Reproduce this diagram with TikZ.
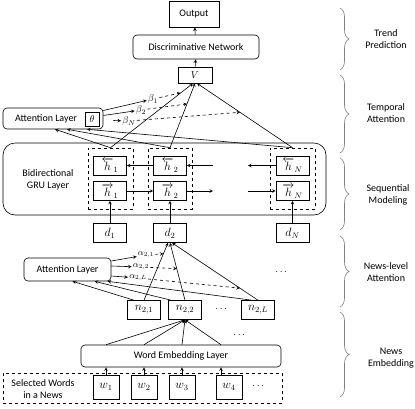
\documentclass[tikz,border=0pt]{standalone}
\usepackage{amsmath,amssymb}
\usepackage{fontspec}
\setmainfont{Carlito}
\usepackage{tikz}
\usetikzlibrary{arrows,positioning,calc,decorations.pathreplacing}
\tikzset{>=stealth}

\begin{document}
\begin{tikzpicture}[x=1pt, y=-1pt, line width=0.6pt,
	every node/.style={font=\normalsize},
	box/.style={draw, minimum width=33, minimum height=19, inner sep=1pt},
	mbox/.style={box, font=\large},
	rbox/.style={draw, rounded corners=4pt, inner sep=2pt},
	grp/.style={draw, dashed, inner sep=0pt},
	lbl/.style={align=center, inner sep=1pt},
	wt/.style={inner sep=1pt, font=\normalsize},
	brc/.style={draw=gray, decorate, decoration={brace, amplitude=9pt}}]
			\useasboundingbox (0,0) rectangle (415,408);
			
			% Trend prediction
			\node[box, minimum width=50, minimum height=26] (out) at (194,14) {Output};
			\node[rbox, minimum width=126, minimum height=24] (disc) at (196,47) {Discriminative Network};
			\node[box, minimum width=34, minimum height=16] (v) at (195,75) {$V$};
			\draw[->] (disc) -- (out);
			\draw[->] (v) -- (disc);
			
			% Temporal attention layer
			\node[rbox, minimum width=100, minimum height=21] (tatt) at (53,118.5) {};
			\node[inner sep=0pt] (tattl) at (46,119) {Attention Layer};
			\node[box, minimum width=14, minimum height=14] (theta) at (92,119) {$\theta$};
			
			% Bidirectional GRU layer
			\node[rbox, rounded corners=12pt, minimum width=323, minimum height=72] (gru) at (164.5,179) {};
			\node[lbl] (grul) at (48,180) {Bidirectional\\GRU Layer};
			
			\node[mbox] (hb1) at (110,165.5) {$\overleftarrow{h}_1$};
			\node[mbox] (hf1) at (110,191) {$\overrightarrow{h}_1$};
			\node[grp, minimum width=45, minimum height=61] (g1) at (110.5,178.5) {};
			\node[mbox] (hb2) at (170,165.5) {$\overleftarrow{h}_2$};
			\node[mbox] (hf2) at (170,191) {$\overrightarrow{h}_2$};
			\node[grp, minimum width=44, minimum height=61] (g2) at (170,178.5) {};
			\node[mbox] (hbN) at (292.5,165.5) {$\overleftarrow{h}_N$};
			\node[mbox] (hfN) at (292.5,191) {$\overrightarrow{h}_N$};
			\node[grp, minimum width=45, minimum height=61] (gN) at (292.5,178.5) {};
			
			\coordinate (gapl1) at (213,165.5);
			\coordinate (gapr1) at (248,165.5);
			\coordinate (gapl2) at (213,191);
			\coordinate (gapr2) at (248,191);
			\draw[->] (hb2) -- (hb1);
			\draw[->] (gapl1) -- (hb2);
			\draw[->] (hbN) -- (gapr1);
			\draw[->] (hf1) -- (hf2);
			\draw[->] (hf2) -- (gapl2);
			\draw[->] (gapr2) -- (hfN);
			
			% News vectors
			\node[mbox] (d1) at (110,233) {$d_1$};
			\node[mbox] (d2) at (170,233) {$d_2$};
			\node[mbox] (dN) at (292.5,233) {$d_N$};
			\draw[->] (d1) -- (hf1);
			\draw[->] (d2) -- (hf2);
			\draw[->] (dN) -- (hfN);
			
			% Temporal attention weights
			\draw[->] (g1.north) -- coordinate[pos=0.85] (b1) ([xshift=-2]v.south);
			\draw[->] (g2.north) -- coordinate[pos=0.68] (b2) (v.south);
			\draw[->] (gN.north) -- coordinate[pos=0.55] (bN) ([xshift=2]v.south);
			\draw[->] (g1.north) -- ([xshift=2]tatt.south);
			\draw[->] (g2.north) -- ([xshift=14]tatt.south);
			\draw[->] (gN.north) -- ([xshift=34]tatt.south);
			
			\node[wt] (bt1) at (153,99) {$\beta_1$};
			\node[wt] (bt2) at (141,110) {$\beta_2$};
			\node[wt] (btN) at (129,121) {$\beta_N$};
			\draw[->] ([yshift=8]tatt.east) -- (bt1);
			\draw[->] ([yshift=3]tatt.east) -- (bt2);
			\draw[->] ([xshift=10,yshift=-2]tatt.east) -- (btN);
			\draw[->, dashed] (bt1) -- (b1);
			\draw[->, dashed] (bt2) -- (b2);
			\draw[->, dashed] (btN) -- (bN);
			
			% News-level attention
			\node[rbox, minimum width=87, minimum height=23] (natt) at (67.5,269.5) {Attention Layer};
			\node[mbox] (n1) at (144,310) {$n_{2,1}$};
			\node[mbox] (n2) at (185,310) {$n_{2,2}$};
			\node[mbox] (nL) at (258,310) {$n_{2,L}$};
			\node (dots1) at (282,272) {$\cdots$};
			\node (dots2) at (222,309) {$\cdots$};
			\node (dots3) at (240,335) {$\cdots$};
			
			\draw[->] (n1.north) -- coordinate[pos=0.81] (a1) ([xshift=-2]d2.south);
			\draw[->] (n2.north) -- coordinate[pos=0.55] (a2) (d2.south);
			\draw[->] (nL.north) -- coordinate[pos=0.21] (aL) ([xshift=2]d2.south);
			\draw[->] ([xshift=-10]n1.north) -- ([xshift=5]natt.south);
			\draw[->] ([xshift=-14]n2.north) -- ([xshift=27]natt.south);
			\draw[->] ([xshift=-6]nL.north) -- ([xshift=40]natt.south);
			
			\node[wt, font=\small] (al1) at (146,255) {$\alpha_{2,1}$};
			\node[wt, font=\small] (al2) at (141,267) {$\alpha_{2,2}$};
			\node[wt, font=\small] (alL) at (138,278) {$\alpha_{2,L}$};
			\draw[->] ([yshift=8.5]natt.east) -- (al1);
			\draw[->] ([yshift=3.5]natt.east) -- (al2);
			\draw[->] ([yshift=-6.5]natt.east) -- (alL);
			\draw[->, dashed] (al1) -- (a1);
			\draw[->, dashed] (al2) -- (a2);
			\draw[->, dashed] (alL) -- (aL);
			
			% Word embedding
			\node[rbox, minimum width=200, minimum height=22] (emb) at (181,356) {Word Embedding Layer};
			\node[grp, minimum width=279, minimum height=30] (sel) at (142.5,388) {};
			\node[lbl] (sell) at (43,389) {Selected Words\\in a News};
			\node[mbox, minimum width=26, minimum height=24] (w1) at (106,387) {$w_1$};
			\node[mbox, minimum width=26, minimum height=24] (w2) at (144,387) {$w_2$};
			\node[mbox, minimum width=26, minimum height=24] (w3) at (182,387) {$w_3$};
			\node[mbox, minimum width=26, minimum height=24] (w4) at (229,387) {$w_4$};
			\node (dots4) at (259,386) {$\cdots$};
			\draw[->] (w1) -- (w1 |- emb.south);
			\draw[->] (w2) -- (w2 |- emb.south);
			\draw[->] (w3) -- (w3 |- emb.south);
			\draw[->] ([xshift=-8]w4.north) -- ([xshift=-8]w4.north |- emb.south);
			\draw[->] (w1 |- emb.north) -- (n2.south);
			\draw[->] (w2 |- emb.north) -- (n2.south);
			\draw[->] (w3 |- emb.north) -- (n2.south);
			\draw[->] ([xshift=-8]w4.north |- emb.north) -- (n2.south);
			
			% Stage braces
			\draw[brc] (340,8) -- (340,70);
			\draw[brc] (340,75) -- (340,153);
			\draw[brc] (340,158) -- (340,230);
			\draw[brc] (340,236) -- (340,307);
			\draw[brc] (340,312) -- (340,397);
			\node[lbl] (trend) at (386,39) {Trend\\Prediction};
			\node[lbl] (temp) at (386,113) {Temporal\\Attention};
			\node[lbl] (seq) at (388,195) {Sequential\\Modeling};
			\node[lbl] (newsatt) at (386,272) {News-level\\Attention};
			\node[lbl] (newsemb) at (391,358) {News\\Embedding};
		\end{tikzpicture}
\end{document}
